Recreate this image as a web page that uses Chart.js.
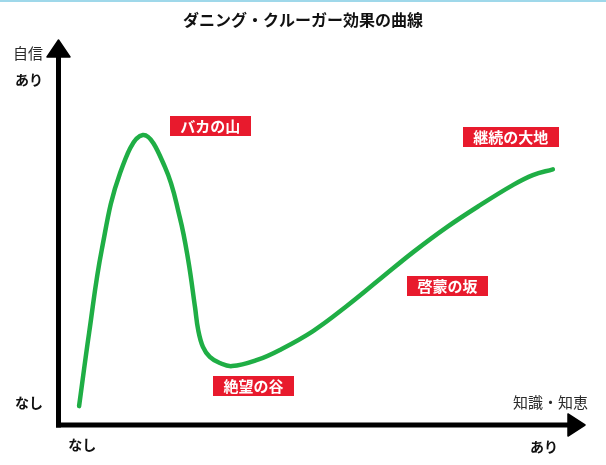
<!DOCTYPE html>
<html>
<head>
<meta charset="utf-8">
<script src="https://cdn.jsdelivr.net/npm/chart.js@4.4.1/dist/chart.umd.min.js"></script>
<style>
  html, body { margin: 0; padding: 0; background: #ffffff; }
  canvas { display: block; }
</style>
</head>
<body>
<canvas id="c" width="606" height="465"></canvas>
<script>
// ---- data ----
const chartTitle = 'ダニング・クルーガー効果の曲線';
const knowledge  = [4.0, 5.9, 8.3, 11.8, 16.1, 20.3, 23.1, 24.7, 26.0, 26.6, 27.5, 28.8, 30.7, 33.0, 37.8, 42.1, 48.4, 54.8, 61.1, 67.4, 73.8, 80.1, 86.3, 90.1, 93.9];
const confidence = [4.9, 23.9, 45.5, 65.5, 75.3, 67.0, 54.0, 42.9, 30.6, 24.7, 20.3, 17.7, 16.1, 15.3, 16.9, 19.5, 24.4, 30.9, 37.9, 44.9, 51.4, 57.1, 62.3, 64.9, 66.4];
const stageNames = ['バカの山', '絶望の谷', '啓蒙の坂', '継続の大地'];
const stageX     = [28.9, 37.1, 73.9, 85.9];
const stageY     = [77.7, 10.1, 36.2, 74.9];
const yTickLabels = ['なし', 'あり'];
const yTickValues = [5.7, 89.6];
const xTickLabels = ['なし', 'あり'];
const xTickValues = [4.6, 92.2];
const yAxisTitle = '自信';
const xAxisTitle = '知識・知恵';

const FONT = '"Noto Sans CJK JP", "Noto Sans", sans-serif';

const points = knowledge.map((k, i) => ({ x: k, y: confidence[i] }));

const decor = {
  id: 'decor',
  beforeDraw(chart) {
    const ctx = chart.ctx;
    ctx.save();
    ctx.fillStyle = '#ffffff';
    ctx.fillRect(0, 0, chart.width, chart.height);
    ctx.fillStyle = '#9fd8ea';
    ctx.fillRect(0, 0, chart.width, 2);
    // title
    ctx.fillStyle = '#111';
    ctx.font = 'bold 16px ' + FONT;
    ctx.textAlign = 'center';
    ctx.textBaseline = 'middle';
    ctx.fillText(chartTitle, chart.width / 2, 20);
    ctx.restore();
  },
  afterDatasetsDraw(chart) {
    const ctx = chart.ctx;
    const a = chart.chartArea;
    const xs = chart.scales.x, ys = chart.scales.y;
    const ox = a.left + 0.5, oy = a.bottom;
    ctx.save();
    // axes
    ctx.strokeStyle = '#000';
    ctx.fillStyle = '#000';
    ctx.lineWidth = 5;
    ctx.beginPath();
    ctx.moveTo(ox, oy + 2.5);
    ctx.lineTo(ox, a.top + 15);
    ctx.stroke();
    ctx.beginPath();
    ctx.moveTo(ox - 2.5, oy);
    ctx.lineTo(a.right - 16, oy);
    ctx.stroke();
    // arrow heads
    ctx.lineJoin = 'round';
    ctx.lineWidth = 1.5;
    ctx.beginPath();
    ctx.moveTo(ox, a.top);
    ctx.lineTo(ox + 11.5, a.top + 17);
    ctx.lineTo(ox - 11.5, a.top + 17);
    ctx.closePath();
    ctx.fill(); ctx.stroke();
    ctx.beginPath();
    ctx.moveTo(a.right, oy);
    ctx.lineTo(a.right - 17, oy - 11);
    ctx.lineTo(a.right - 17, oy + 11);
    ctx.closePath();
    ctx.fill(); ctx.stroke();

    // axis titles
    ctx.textBaseline = 'middle';
    ctx.fillStyle = '#2a2a2a';
    ctx.font = '15px ' + FONT;
    ctx.textAlign = 'center';
    ctx.fillText(yAxisTitle, 28, a.top + 13);
    ctx.textAlign = 'right';
    ctx.fillText(xAxisTitle, a.right + 3, oy - 23);

    // tick labels
    ctx.fillStyle = '#111';
    ctx.font = 'bold 14px ' + FONT;
    ctx.textAlign = 'center';
    yTickLabels.forEach((t, i) => {
      ctx.fillText(t, 29, ys.getPixelForValue(yTickValues[i]));
    });
    xTickLabels.forEach((t, i) => {
      ctx.fillText(t, xs.getPixelForValue(xTickValues[i]), oy + 20 + i * 2);
    });

    // stage labels
    ctx.font = 'bold 15px ' + FONT;
    stageNames.forEach((name, i) => {
      const cx = xs.getPixelForValue(stageX[i]);
      const cy = ys.getPixelForValue(stageY[i]);
      const w = ctx.measureText(name).width + 21;
      const h = 20;
      ctx.fillStyle = '#e81a2d';
      ctx.fillRect(Math.round(cx - w / 2), Math.round(cy - h / 2), Math.round(w), h);
      ctx.fillStyle = '#ffffff';
      ctx.fillText(name, cx, cy + 0.5);
    });
    ctx.restore();
  }
};

new Chart(document.getElementById('c'), {
  type: 'scatter',
  data: {
    datasets: [{
      data: points,
      showLine: true,
      borderColor: '#1fae45',
      borderWidth: 4.5,
      pointRadius: 0,
      pointHoverRadius: 0,
      tension: 0.4,
      borderCapStyle: 'round',
      borderJoinStyle: 'round',
      fill: false
    }]
  },
  options: {
    responsive: false,
    animation: false,
    events: [],
    layout: { padding: { left: 58, right: 21, top: 40, bottom: 40 } },
    scales: {
      x: { type: 'linear', min: 0, max: 100, display: false },
      y: { type: 'linear', min: 0, max: 100, display: false }
    },
    plugins: {
      legend: { display: false },
      tooltip: { enabled: false },
      title: { display: false }
    }
  },
  plugins: [decor]
});
</script>
</body>
</html>
